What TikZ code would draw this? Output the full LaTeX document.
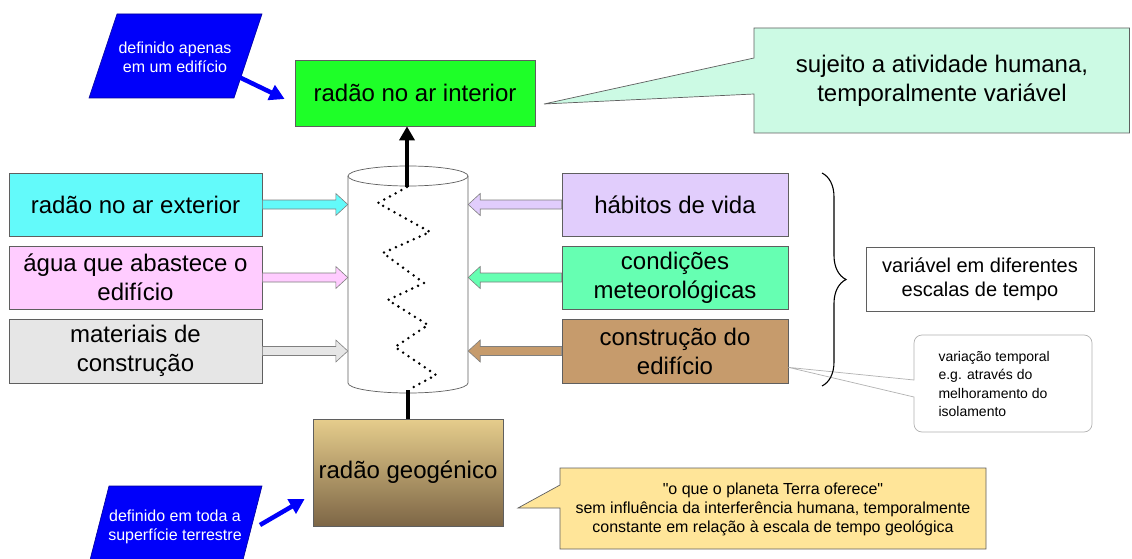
\documentclass[tikz,border=0pt]{standalone}
\usepackage{fontspec}
\setmainfont{Liberation Sans}
\usetikzlibrary{arrows.meta,calc,decorations.pathreplacing}
\newcommand\strq{\XeTeXglyph\XeTeXglyphindex "quotedbl"\relax}
\definecolor{cyanbox}{RGB}{99,250,250}
\definecolor{pinkbox}{RGB}{255,204,255}
\definecolor{graybox}{RGB}{230,230,230}
\definecolor{lavbox}{RGB}{225,205,252}
\definecolor{mintbox}{RGB}{102,255,178}
\definecolor{brownbox}{RGB}{198,155,108}
\definecolor{greenbox}{RGB}{30,255,40}
\definecolor{mintcall}{RGB}{204,250,228}
\definecolor{yellcall}{RGB}{255,229,153}
\definecolor{geotop}{RGB}{230,205,140}
\definecolor{geobot}{RGB}{125,102,70}
\definecolor{bluepar}{RGB}{0,0,250}
\definecolor{edgegray}{RGB}{95,95,95}
\newcommand\hollowarrow[3]{%
  \filldraw[draw=edgegray!80, fill=#3, line width=0.6pt]
    let \p1=(#1), \p2=(#2), \n1={sign(\x2-\x1)*12} in
    (\x1,{\y1+4.5pt}) -- ({\x2-\n1*1pt},{\y1+4.5pt}) -- ({\x2-\n1*1pt},{\y1+11pt})
    -- (\x2,\y1) -- ({\x2-\n1*1pt},{\y1-11pt}) -- ({\x2-\n1*1pt},{\y1-4.5pt})
    -- (\x1,{\y1-4.5pt}) -- cycle;}
\tikzset{
  bigbox/.style={draw=edgegray, line width=0.7pt, inner sep=0pt, align=center,
    font=\fontsize{24}{29}\selectfont},
  callout/.style={draw=edgegray, line width=0.7pt},
  bluearrow/.style={draw=bluepar, line width=4.5pt, -{Triangle[length=15pt,width=16pt]}},
  blackarrow/.style={draw=black, line width=4pt, -{Triangle[length=14pt,width=15pt]}},
  partext/.style={text=white, align=center, font=\fontsize{16}{19}\selectfont},
}
\begin{document}
\begin{tikzpicture}[x=1pt,y=-1pt]
\useasboundingbox (0,0) rectangle (1132,559);
\fill[white] (0,0) rectangle (1132,559);

% parallelograms
\filldraw[fill=bluepar, draw=blue!60!black, line width=0.6pt] (117,14) -- (262,14) -- (234,98) -- (89,98) -- cycle;
\node[partext] (def1) at (175,57) {definido apenas\\em um edifício};
\filldraw[fill=bluepar, draw=blue!60!black, line width=0.6pt] (109,486) -- (262,486) -- (243,560) -- (90,560) -- cycle;
\node[partext] (def2) at (175,527) {definido em toda a\\superfície terrestre};

% main boxes
\node[bigbox, fill=greenbox, minimum width=240pt, minimum height=66pt] (ind) at (415,93) {radão no ar interior};
\node[bigbox, fill=cyanbox, minimum width=253pt, minimum height=63pt] (lb1) at (135.5,204.5) {radão no ar exterior};
\node[bigbox, fill=pinkbox, minimum width=253pt, minimum height=63pt] (lb2) at (135.5,277.5) {água que abastece o\\edifício};
\node[bigbox, fill=graybox, minimum width=253pt, minimum height=64pt] (lb3) at (135.5,351) {materiais de\\construção};
\node[bigbox, fill=lavbox, minimum width=226pt, minimum height=63pt] (rb1) at (675,204.5) {hábitos de vida};
\node[bigbox, fill=mintbox, minimum width=226pt, minimum height=63pt] (rb2) at (675,277.5) {condições\\meteorológicas};
\node[bigbox, fill=brownbox, minimum width=226pt, minimum height=64pt] (rb3) at (675,351) {construção do\\edifício};
\node[bigbox, top color=geotop, bottom color=geobot, minimum width=190pt, minimum height=107pt] (geo) at (408,472.5) {radão geogénico};
\node[draw=edgegray, line width=0.7pt, fill=white, minimum width=228pt, minimum height=64pt, align=center,
  font=\fontsize{20}{24}\selectfont] (var) at (980,279) {variável em diferentes\\escalas de tempo};

% cylinder
\node[minimum width=120pt, minimum height=207pt, inner sep=0pt] (cyl) at (408,279.5) {};
\filldraw[fill=white, draw=edgegray, line width=0.7pt] (348,176) -- (348,383) arc[start angle=180, end angle=360, x radius=60pt, y radius=10pt] -- (468,176);
\filldraw[fill=white, draw=edgegray, line width=0.7pt] (408,176) ellipse[x radius=60pt, y radius=10pt];

\coordinate (ctop) at (407,187);
\coordinate (cbot) at (408,390);
\draw[line width=2.8pt, line cap=round, dash pattern=on 0pt off 6.5pt]
  (ctop) -- (378,203) -- (430,232) -- (383,253) -- (424,283) -- (388,300) -- (428,325)
  -- (395,347) -- (436,375) -- (cbot);
\draw[blackarrow] (ctop) -- (ctop |- ind.south);
\draw[line width=4pt] (cbot) -- (cbot |- geo.north);

% hollow arrows
\hollowarrow{lb1.east}{lb1.east -| cyl.west}{cyanbox}
\hollowarrow{lb2.east}{lb2.east -| cyl.west}{pinkbox}
\hollowarrow{lb3.east}{lb3.east -| cyl.west}{graybox}
\hollowarrow{rb1.west}{rb1.west -| cyl.east}{lavbox}
\hollowarrow{rb2.west}{rb2.west -| cyl.east}{mintbox}
\hollowarrow{rb3.west}{rb3.west -| cyl.east}{brownbox}

% blue arrows
\coordinate (b1s) at (239,77);
\coordinate (b2s) at (260,525);
\draw[bluearrow] (b1s) -- ([shift={(-10,6)}]ind.west);
\draw[bluearrow] (b2s) -- ([shift={(-8,26.5)}]geo.west);

% callouts
\filldraw[callout, fill=mintcall] (754,58) -- (544,104) -- (754,94) -- (754,133) -- (1129.5,133) -- (1129.5,28) -- (754,28) -- cycle;
\node[align=center, font=\fontsize{24}{29}\selectfont] (hum) at (942,81) {sujeito a atividade humana,\\temporalmente variável};

\filldraw[callout, fill=yellcall] (560,485) -- (518,508) -- (560,508) -- (560,549) -- (986,549) -- (986,468) -- (560,468) -- cycle;
\node[align=center, font=\fontsize{16}{19}\selectfont] (geot) at (773,509) {\strq o que o planeta Terra oferece\strq\\sem influência da interferência humana, temporalmente\\constante em relação à escala de tempo geológica};

\filldraw[draw=gray!60, fill=white, line width=0.7pt] (914,380) -- ([yshift=16pt]rb3.south east) -- (914,397)
  [rounded corners=8pt] -- (914,432) -- (1092,432) -- (1092,335) -- (914,335) [sharp corners] -- cycle;
\node[anchor=west, align=left, font=\fontsize{14}{18.5}\selectfont] (iso) at (935,384) {variação temporal\\e.g. através do\\melhoramento do\\isolamento};

% brace
\draw[line width=1.1pt, decorate, decoration={brace, amplitude=24pt}] (822,173) -- (822,386);
\end{tikzpicture}
\end{document}
